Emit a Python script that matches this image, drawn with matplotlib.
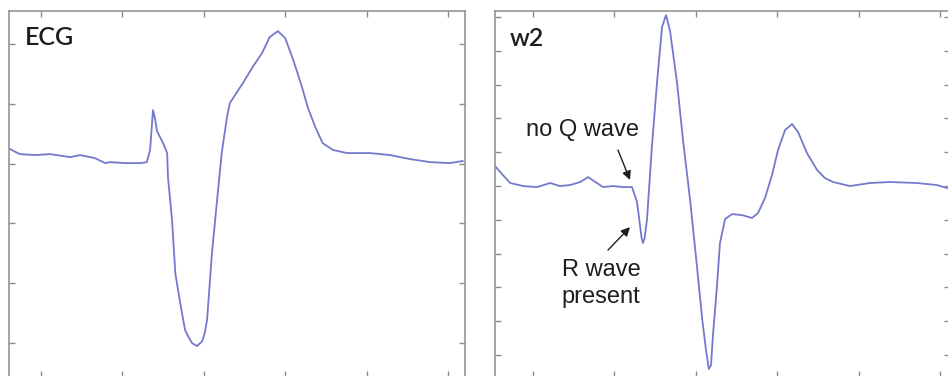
import numpy as np
import matplotlib
matplotlib.use("Agg")
import matplotlib.pyplot as plt

# beat traces: time in ms, amplitude in mV
ecg_t = [-38, -26, -7, 11, 36, 48, 66, 79, 85, 103, 122, 130, 134, 137.6, 140,
         142.5, 150, 155, 156, 161, 165, 171, 177, 182, 185.5, 191.6, 198, 201,
         204, 210, 216, 222, 228.5, 232, 248, 260, 271.5, 281, 291, 300, 310,
         321, 328, 337, 346, 359, 376, 404, 429, 453, 478, 502, 518]
ecg_v = [0.622, 0.580, 0.572, 0.580, 0.555, 0.572, 0.547, 0.505, 0.513, 0.505,
         0.505, 0.513, 0.614, 0.948, 0.880, 0.773, 0.672, 0.589, 0.388, 0.028,
         -0.415, -0.666, -0.891, -0.960, -1.000, -1.025, -0.985, -0.920, -0.808,
         -0.249, 0.172, 0.589, 0.890, 1.007, 1.174, 1.308, 1.425, 1.559, 1.609,
         1.550, 1.366, 1.132, 0.965, 0.806, 0.672, 0.614, 0.589, 0.589, 0.572,
         0.539, 0.513, 0.505, 0.522]

w2_t = [-45.5, -37, -28, -12, 5, 21, 33, 45.5, 58, 67.6, 78.6, 86, 98, 111,
        121.6, 127.8, 131.4, 133.5, 135.1, 137, 140, 146, 152.3, 158.5, 163.4,
        168.3, 177, 184.3, 193, 201.5, 207.6, 212.5, 216, 218.7, 221, 226, 229.7,
        236, 244.5, 257, 269, 276.4, 285, 293.6, 301, 309.6, 318.2, 325.6,
        336.6, 349, 358.7, 368.6, 389.4, 414, 438.6, 471.7, 496.3, 508.6]
w2_v = [0.112, 0.065, 0.018, 0.0, -0.006, 0.018, 0.0, 0.006, 0.024, 0.053,
        0.018, -0.006, 0.0, -0.006, -0.006, -0.095, -0.231, -0.310, -0.337,
        -0.310, -0.201, 0.231, 0.609, 0.941, 1.012, 0.920, 0.609, 0.272, -0.083,
        -0.479, -0.775, -0.970, -1.083, -1.059, -0.888, -0.592, -0.337, -0.195,
        -0.166, -0.172, -0.189, -0.160, -0.071, 0.065, 0.213, 0.331, 0.367,
        0.320, 0.195, 0.095, 0.047, 0.024, 0.0, 0.018, 0.024, 0.018, 0.006,
        -0.012]

time_ticks = [0, 100, 200, 300, 400, 500]
ecg_ticks = [-1.0, -0.5, 0.0, 0.5, 1.0, 1.5]
w2_ticks = np.round(np.arange(-1.0, 1.01, 0.2), 1)

TRACE = "#7479cc"
FRAME = "#8c8c8c"
INK = "#1e1e1e"


def style_axes(ax, yticks):
    ax.set_xticks(time_ticks)
    ax.set_yticks(yticks)
    ax.tick_params(direction="in", length=4, width=1, color=FRAME,
                   top=True, right=True, labelbottom=False, labelleft=False)
    for sp in ax.spines.values():
        sp.set_color(FRAME)
        sp.set_linewidth(1.1)


fig = plt.figure(figsize=(9.48, 3.76), dpi=100)
ax1 = fig.add_axes([0.01002, -0.00266, 0.48101, 0.97340])
ax2 = fig.add_axes([0.52215, -0.00266, 0.47996, 0.97340])

ax1.plot(ecg_t, ecg_v, color=TRACE, lw=1.3)
ax1.set_xlim(-38.7, 521.5)
ax1.set_ylim(-1.284, 1.777)
style_axes(ax1, ecg_ticks)
ax1.text(0.034, 0.907, "ECG", transform=ax1.transAxes, fontsize=18,
         family="Lato", weight="semibold", color=INK, va="baseline")

ax2.plot(w2_t, w2_v, color=TRACE, lw=1.3)
ax2.set_xlim(-46.7, 512.3)
ax2.set_ylim(-1.130, 1.036)
style_axes(ax2, w2_ticks)
ax2.text(0.033, 0.904, "w2", transform=ax2.transAxes, fontsize=18,
         family="Lato", weight="semibold", color=INK, va="baseline")

arrow = dict(arrowstyle="-|>", color=INK, lw=1.0, mutation_scale=13,
             shrinkA=0, shrinkB=0)
ax2.text(61.4, 0.331, "no Q wave", ha="center", va="center", fontsize=17,
         family="Liberation Sans", color=INK)
ax2.annotate("", xy=(119.2, 0.036), xytext=(104.4, 0.213), arrowprops=arrow)
ax2.text(83.5, -0.574, "R wave\npresent", ha="center", va="center",
         fontsize=17, family="Liberation Sans", color=INK, linespacing=1.3)
ax2.annotate("", xy=(119.2, -0.243), xytext=(92.1, -0.379), arrowprops=arrow)

fig.savefig("out.png", dpi=100)
